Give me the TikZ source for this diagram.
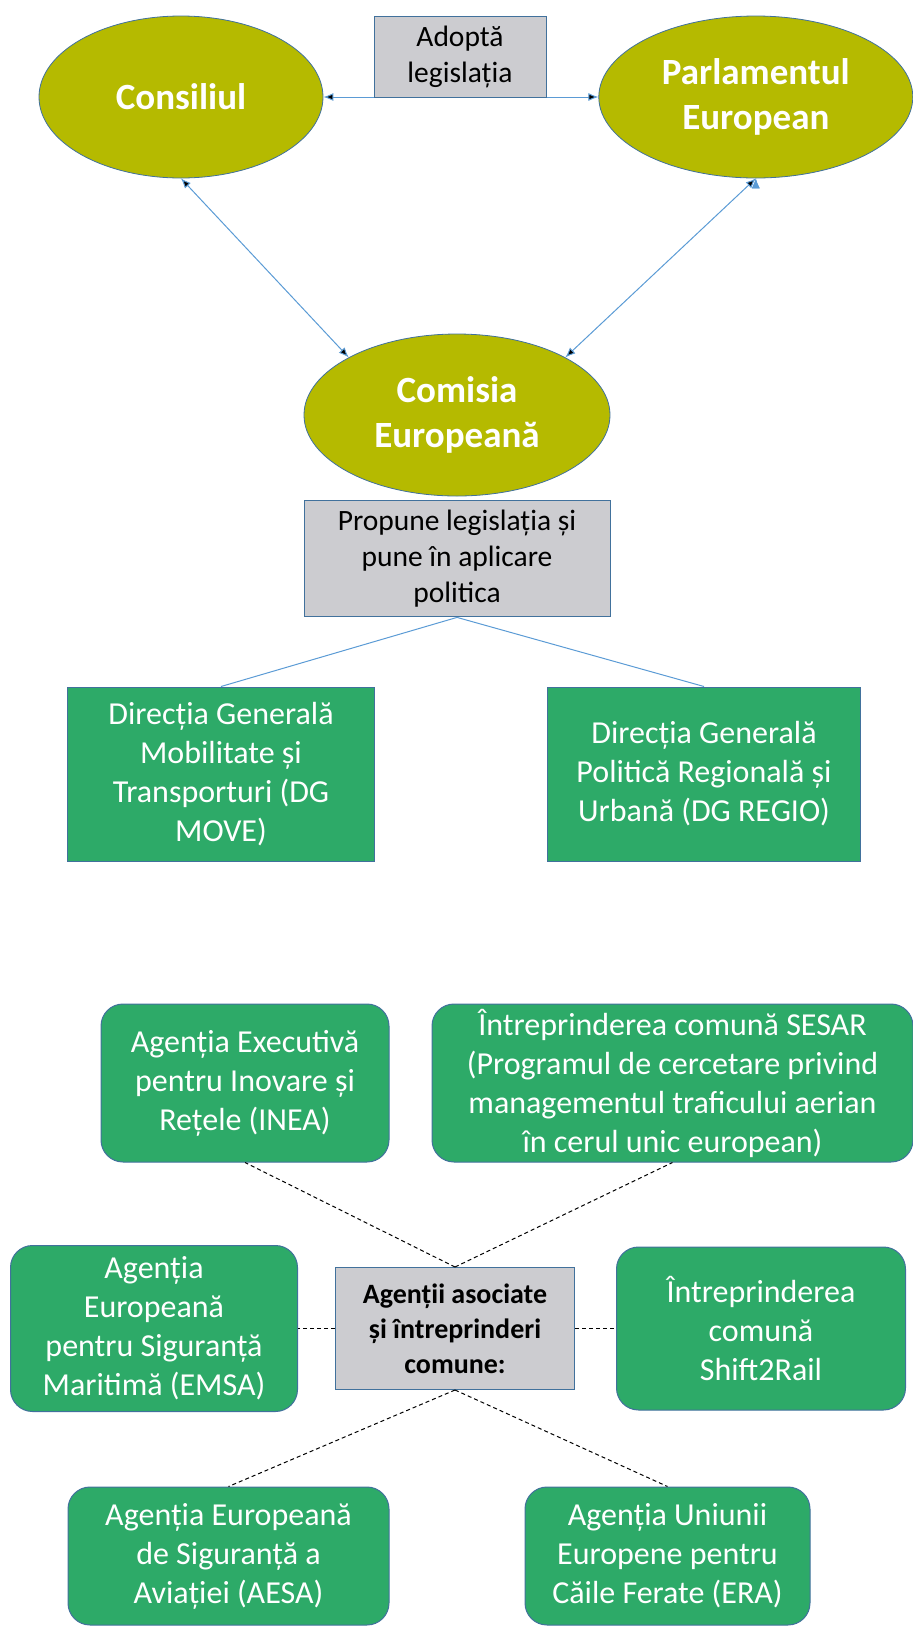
\documentclass[tikz,border=0pt]{standalone}
\usepackage{fontspec}
\setmainfont{Carlito}
\usetikzlibrary{shapes.geometric, positioning, arrows.meta}

\definecolor{olivefill}{RGB}{181,186,0}
\definecolor{greenfill}{RGB}{45,170,104}
\definecolor{grayfill}{RGB}{204,204,208}
\definecolor{edgeblue}{RGB}{65,113,156}
\definecolor{lineblue}{RGB}{91,155,213}

\tikzset{
  organ/.style={ellipse, draw=edgeblue, line width=0.8pt, fill=olivefill, text=white,
    font=\fontsize{37}{45}\selectfont\bfseries, align=center, inner sep=0pt, minimum height=162pt},
  rol/.style={rectangle, draw=edgeblue, line width=1pt, fill=grayfill, align=center,
    font=\fontsize{29.5}{36}\selectfont, inner sep=0pt},
  titlu/.style={rol, font=\fontsize{28}{35}\selectfont\bfseries},
  dg/.style={rectangle, draw=edgeblue, line width=1pt, fill=greenfill, text=white, align=center,
    font=\fontsize{32}{39}\selectfont, inner sep=0pt, minimum height=174pt},
  agentie/.style={dg, rounded corners=22pt},
  legatura/.style={{Latex[length=10pt,width=8pt]}-{Latex[length=10pt,width=8pt]}, draw=lineblue, line width=1pt},
  ramura/.style={draw=lineblue, line width=1pt},
  punctat/.style={draw=black, line width=1pt, dash pattern=on 4pt off 3pt}
}

\begin{document}
\begin{tikzpicture}[x=1pt, y=-1pt]
        \useasboundingbox (0,0) rectangle (913,1626);
        \node[organ, minimum width=284pt] (consiliul) at (181,97) {Consiliul};
        \node[organ, minimum width=314pt] (parlament) [right=275pt of consiliul] {Parlamentul\\European};
        \node[organ, minimum width=306pt] (comisia) at (457,415) {Comisia\\Europeană};
        \path[legatura]
                (consiliul) edge (parlament)
                (consiliul.south) edge (comisia.152)
                (parlament.south) edge (comisia.28);
        \node[rol, minimum width=172pt, minimum height=81pt] (adopta) at (460,56.5) {Adoptă\\legislația};
        \node[rol, minimum width=306pt, minimum height=116pt] (propune) [below=4pt of comisia] {Propune legislația și\\pune în aplicare\\politica};

        \node[dg, minimum width=307pt] (move) at (221,774) {Direcția Generală\\Mobilitate și\\Transporturi (DG\\MOVE)};
        \node[dg, minimum width=313pt] (regio) [right=172pt of move] {Direcția Generală\\Politică Regională și\\Urbană (DG REGIO)};
        \path[ramura]
                (propune.south) edge (move.north)
                    edge (regio.north);

        \node[titlu, minimum width=239pt, minimum height=122pt] (asociate) at (455,1328.5) {Agenții asociate\\și întreprinderi\\comune:};
        \node[agentie, minimum width=288pt, minimum height=158pt] (inea) at (245,1083) {Agenția Executivă\\pentru Inovare și\\Rețele (INEA)};
        \node[agentie, minimum width=481pt, minimum height=158pt] (sesar) [right=42pt of inea] {Întreprinderea comună SESAR\\(Programul de cercetare privind\\managementul traficului aerian\\în cerul unic european)};
        \node[agentie, minimum width=287pt, minimum height=166pt] (emsa) [left=37pt of asociate] {Agenția\\Europeană\\pentru Siguranță\\Maritimă (EMSA)};
        \node[agentie, minimum width=289pt, minimum height=163pt] (shift) [right=41pt of asociate] {Întreprinderea\\comună\\Shift2Rail};
        \node[agentie, minimum width=321pt, minimum height=138pt] (aesa) at (228.5,1556) {Agenția Europeană\\de Siguranță a\\Aviației (AESA)};
        \node[agentie, minimum width=285pt, minimum height=138pt] (era) [right=135pt of aesa] {Agenția Uniunii\\Europene pentru\\Căile Ferate (ERA)};
        \path[punctat]
                (asociate.north) edge (inea.south)
                    edge (sesar.south)
                (asociate.west) edge (emsa.east)
                (asociate.east) edge (shift.west)
                (asociate.south) edge (aesa.north)
                    edge (era.north);
\end{tikzpicture}
\end{document}
